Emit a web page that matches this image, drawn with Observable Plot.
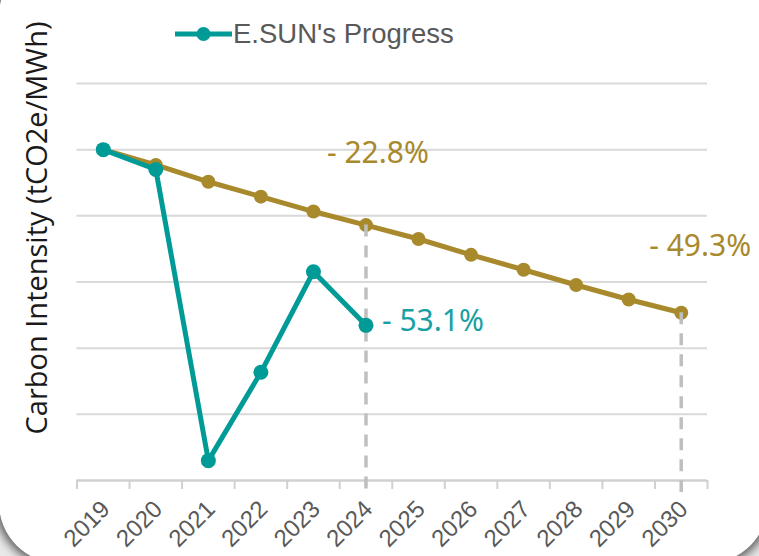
<!DOCTYPE html>
<html>
<head>
<meta charset="utf-8">
<script src="https://cdn.jsdelivr.net/npm/d3@7"></script>
<script src="https://cdn.jsdelivr.net/npm/@observablehq/plot@0.6"></script>
<style>
  html, body { margin: 0; padding: 0; width: 759px; height: 556px; overflow: hidden; background: #e9e9e9; }
  #card { position: absolute; left: -1px; top: -44px; width: 769px; height: 607px; background: #fff;
          border-radius: 60px; box-shadow: 0 0 10px 4px rgba(0,0,0,0.6); }
  #chart { position: absolute; left: 0; top: 0; }
  #legend { position: absolute; left: 175px; top: 18px; display: flex; align-items: center;
            font-family: "Liberation Sans", Arial, sans-serif; font-size: 27.5px; color: #595959; }
  #ylabel { position: absolute; left: 35px; top: 228px; transform: translate(-50%, -50%) rotate(-90deg);
            white-space: nowrap; font-family: "Open Sans", sans-serif; font-size: 29px; color: #1a1a1a; }
</style>
</head>
<body>
<div id="card"></div>
<div id="chart"></div>
<div id="legend"></div>
<div id="ylabel">Carbon Intensity (tCO2e/MWh)</div>
<script>
// ---- data (carbon intensity indexed to 2019 = 100) ----
const years = [2019, 2020, 2021, 2022, 2023, 2024, 2025, 2026, 2027, 2028, 2029, 2030];
const targetValues = [100, 95.4, 90.3, 85.8, 81.3, 77.2, 73.0, 68.2, 63.7, 59.1, 54.7, 50.7];
const actualYears = [2019, 2020, 2021, 2022, 2023, 2024];
const actualValues = [100, 94.0, 6.0, 32.7, 63.1, 46.9];
const gridValues = [20, 40, 60, 80, 100, 120];
const milestoneYears = [2024, 2030];
const labelTexts = ["- 22.8%", "- 53.1%", "- 49.3%"];
const legendLabel = "E.SUN's Progress";
const yTitle = "Carbon Intensity (tCO2e/MWh)";

const teal = "#009a97";
const gold = "#a8892c";

const target = years.map((y, i) => ({year: y, value: targetValues[i]}));
const actual = actualYears.map((y, i) => ({year: y, value: actualValues[i]}));
const boundaries = d3.range(years[0] - 0.5, years[years.length - 1] + 1, 1);
const milestones = milestoneYears.map(y => ({year: y, value: targetValues[years.indexOf(y)]}));
const lblTarget2024 = [{year: 2024, value: targetValues[years.indexOf(2024)], text: labelTexts[0]}];
const lblActual2024 = [{year: 2024, value: actualValues[actualYears.indexOf(2024)], text: labelTexts[1]}];
const lblTarget2030 = [{year: 2030, value: targetValues[years.indexOf(2030)], text: labelTexts[2]}];

const chart = Plot.plot({
  width: 759,
  height: 556,
  marginLeft: 76.5,
  marginRight: 52,
  marginTop: 83,
  marginBottom: 76,
  x: {type: "linear", domain: [years[0] - 0.5, years[years.length - 1] + 0.5], axis: null},
  y: {domain: [0, 120], axis: null},
  style: {background: "transparent", overflow: "visible"},
  marks: [
    Plot.ruleY(gridValues, {stroke: "#d9d9d9", strokeWidth: 2}),
    Plot.ruleY([0], {stroke: "#d0d0d0", strokeWidth: 2.5}),
    Plot.axisX({ticks: boundaries, tickSize: 9, tickFormat: () => "", label: null, stroke: "#d0d0d0", strokeWidth: 2}),
    Plot.text(years, {x: d => d, frameAnchor: "bottom", text: d => String(d), rotate: -45, textAnchor: "end",
      fontSize: 24, fill: "#595959", fontFamily: "Liberation Sans, Arial, sans-serif", dx: 8, dy: 30}),
    Plot.line(target, {x: "year", y: "value", stroke: gold, strokeWidth: 5}),
    Plot.dot(target, {x: "year", y: "value", r: 7, fill: gold}),
    Plot.ruleX(milestones, {x: "year", y1: "value", y2: 0, stroke: "#bfbfbf", strokeWidth: 3.5,
      strokeDasharray: "12,9", insetBottom: -12}),
    Plot.line(actual, {x: "year", y: "value", stroke: teal, strokeWidth: 5}),
    Plot.dot(actual, {x: "year", y: "value", r: 7.5, fill: teal}),
    Plot.text(lblTarget2024, {x: "year", y: "value", text: "text", textAnchor: "start", dx: -39, dy: -72,
      fontSize: 30, fill: gold, fontFamily: "Noto Sans, sans-serif"}),
    Plot.text(lblActual2024, {x: "year", y: "value", text: "text", textAnchor: "start", dx: 16, dy: -4,
      fontSize: 30, fill: "#18a0a4", fontFamily: "Noto Sans, sans-serif"}),
    Plot.text(lblTarget2030, {x: "year", y: "value", text: "text", textAnchor: "start", dx: -32, dy: -66,
      fontSize: 30, fill: gold, fontFamily: "Noto Sans, sans-serif"})
  ]
});
document.getElementById("chart").appendChild(chart);

// legend
const legend = d3.select("#legend");
const ls = legend.append("svg").attr("width", 58).attr("height", 20);
ls.append("line").attr("x1", 0).attr("x2", 57).attr("y1", 10).attr("y2", 10)
  .attr("stroke", teal).attr("stroke-width", 5);
ls.append("circle").attr("cx", 28.5).attr("cy", 10).attr("r", 7).attr("fill", teal);
legend.append("span").text(legendLabel);
document.getElementById("ylabel").textContent = yTitle;
</script>
</body>
</html>
